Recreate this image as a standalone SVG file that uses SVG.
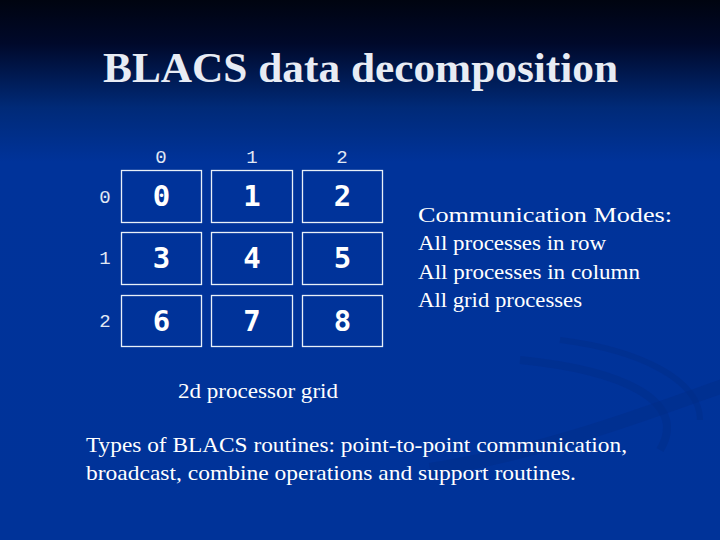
<svg xmlns="http://www.w3.org/2000/svg" width="720" height="540" viewBox="0 0 720 540">
<defs>
<linearGradient id="bg" x1="0" y1="0" x2="0" y2="1">
<stop offset="0" stop-color="#000410"/>
<stop offset="0.08" stop-color="#00092a"/>
<stop offset="0.2" stop-color="#002a78"/>
<stop offset="0.3" stop-color="#00339a"/>
<stop offset="1" stop-color="#003399"/>
</linearGradient>
<style>
.cell{fill:none;stroke:#e8f0f8;stroke-width:1.3}
.num{font-family:"DejaVu Sans Mono","Liberation Mono",monospace;font-weight:bold;font-size:29px;fill:#ffffff;text-anchor:middle}
.idx{font-family:"Liberation Mono","DejaVu Sans Mono",monospace;font-size:19px;fill:#e0e8f4;text-anchor:middle}
.body{font-family:"Liberation Serif","Times New Roman",serif;font-size:22px;fill:#ffffff}
.title{font-family:"Liberation Serif","Times New Roman",serif;font-weight:bold;font-size:42px;fill:#e8ecf4}
.swirl{fill:none;stroke:#002c88;stroke-opacity:0.45}
</style>
</defs>
<rect width="720" height="540" fill="url(#bg)"/>
<path class="swirl" stroke-width="14" d="M 430 470 C 560 450, 680 400, 740 380"/>
<path class="swirl" stroke-width="8" d="M 520 360 C 620 370, 690 400, 660 450"/>
<path class="swirl" stroke-width="6" d="M 560 340 C 640 350, 700 380, 700 420"/>
<text class="title" x="103" y="82" textLength="515" lengthAdjust="spacingAndGlyphs">BLACS data decomposition</text>
<g id="col-headers">
<text class="idx" x="161" y="163">0</text>
<text class="idx" x="252" y="163">1</text>
<text class="idx" x="342" y="163">2</text>
</g>
<g id="row-headers">
<text class="idx" x="105" y="203">0</text>
<text class="idx" x="105" y="264">1</text>
<text class="idx" x="105" y="327">2</text>
</g>
<g id="p0"><rect class="cell" x="121.5" y="170.5" width="80" height="52"/><text class="num" x="161.5" y="206">0</text></g>
<g id="p1"><rect class="cell" x="211.5" y="170.5" width="81" height="52"/><text class="num" x="252" y="206">1</text></g>
<g id="p2"><rect class="cell" x="302.5" y="170.5" width="80" height="52"/><text class="num" x="342.5" y="206">2</text></g>
<g id="p3"><rect class="cell" x="121.5" y="232.5" width="80" height="52"/><text class="num" x="161.5" y="268">3</text></g>
<g id="p4"><rect class="cell" x="211.5" y="232.5" width="81" height="52"/><text class="num" x="252" y="268">4</text></g>
<g id="p5"><rect class="cell" x="302.5" y="232.5" width="80" height="52"/><text class="num" x="342.5" y="268">5</text></g>
<g id="p6"><rect class="cell" x="121.5" y="295.5" width="80" height="51"/><text class="num" x="161.5" y="331">6</text></g>
<g id="p7"><rect class="cell" x="211.5" y="295.5" width="81" height="51"/><text class="num" x="252" y="331">7</text></g>
<g id="p8"><rect class="cell" x="302.5" y="295.5" width="80" height="51"/><text class="num" x="342.5" y="331">8</text></g>
<g id="connectors"></g>
<g id="modes">
<text class="body" x="418" y="222" textLength="254" lengthAdjust="spacingAndGlyphs">Communication Modes:</text>
<text class="body" x="418" y="250" textLength="188" lengthAdjust="spacingAndGlyphs">All processes in row</text>
<text class="body" x="418" y="279" textLength="222" lengthAdjust="spacingAndGlyphs">All processes in column</text>
<text class="body" x="418" y="307" textLength="164" lengthAdjust="spacingAndGlyphs">All grid processes</text>
</g>
<text class="body" x="178" y="398" textLength="160" lengthAdjust="spacingAndGlyphs">2d processor grid</text>
<text class="body" x="86" y="452" textLength="541" lengthAdjust="spacingAndGlyphs">Types of BLACS routines: point-to-point communication,</text>
<text class="body" x="86" y="480" textLength="490" lengthAdjust="spacingAndGlyphs">broadcast, combine operations and support routines.</text>
</svg>
